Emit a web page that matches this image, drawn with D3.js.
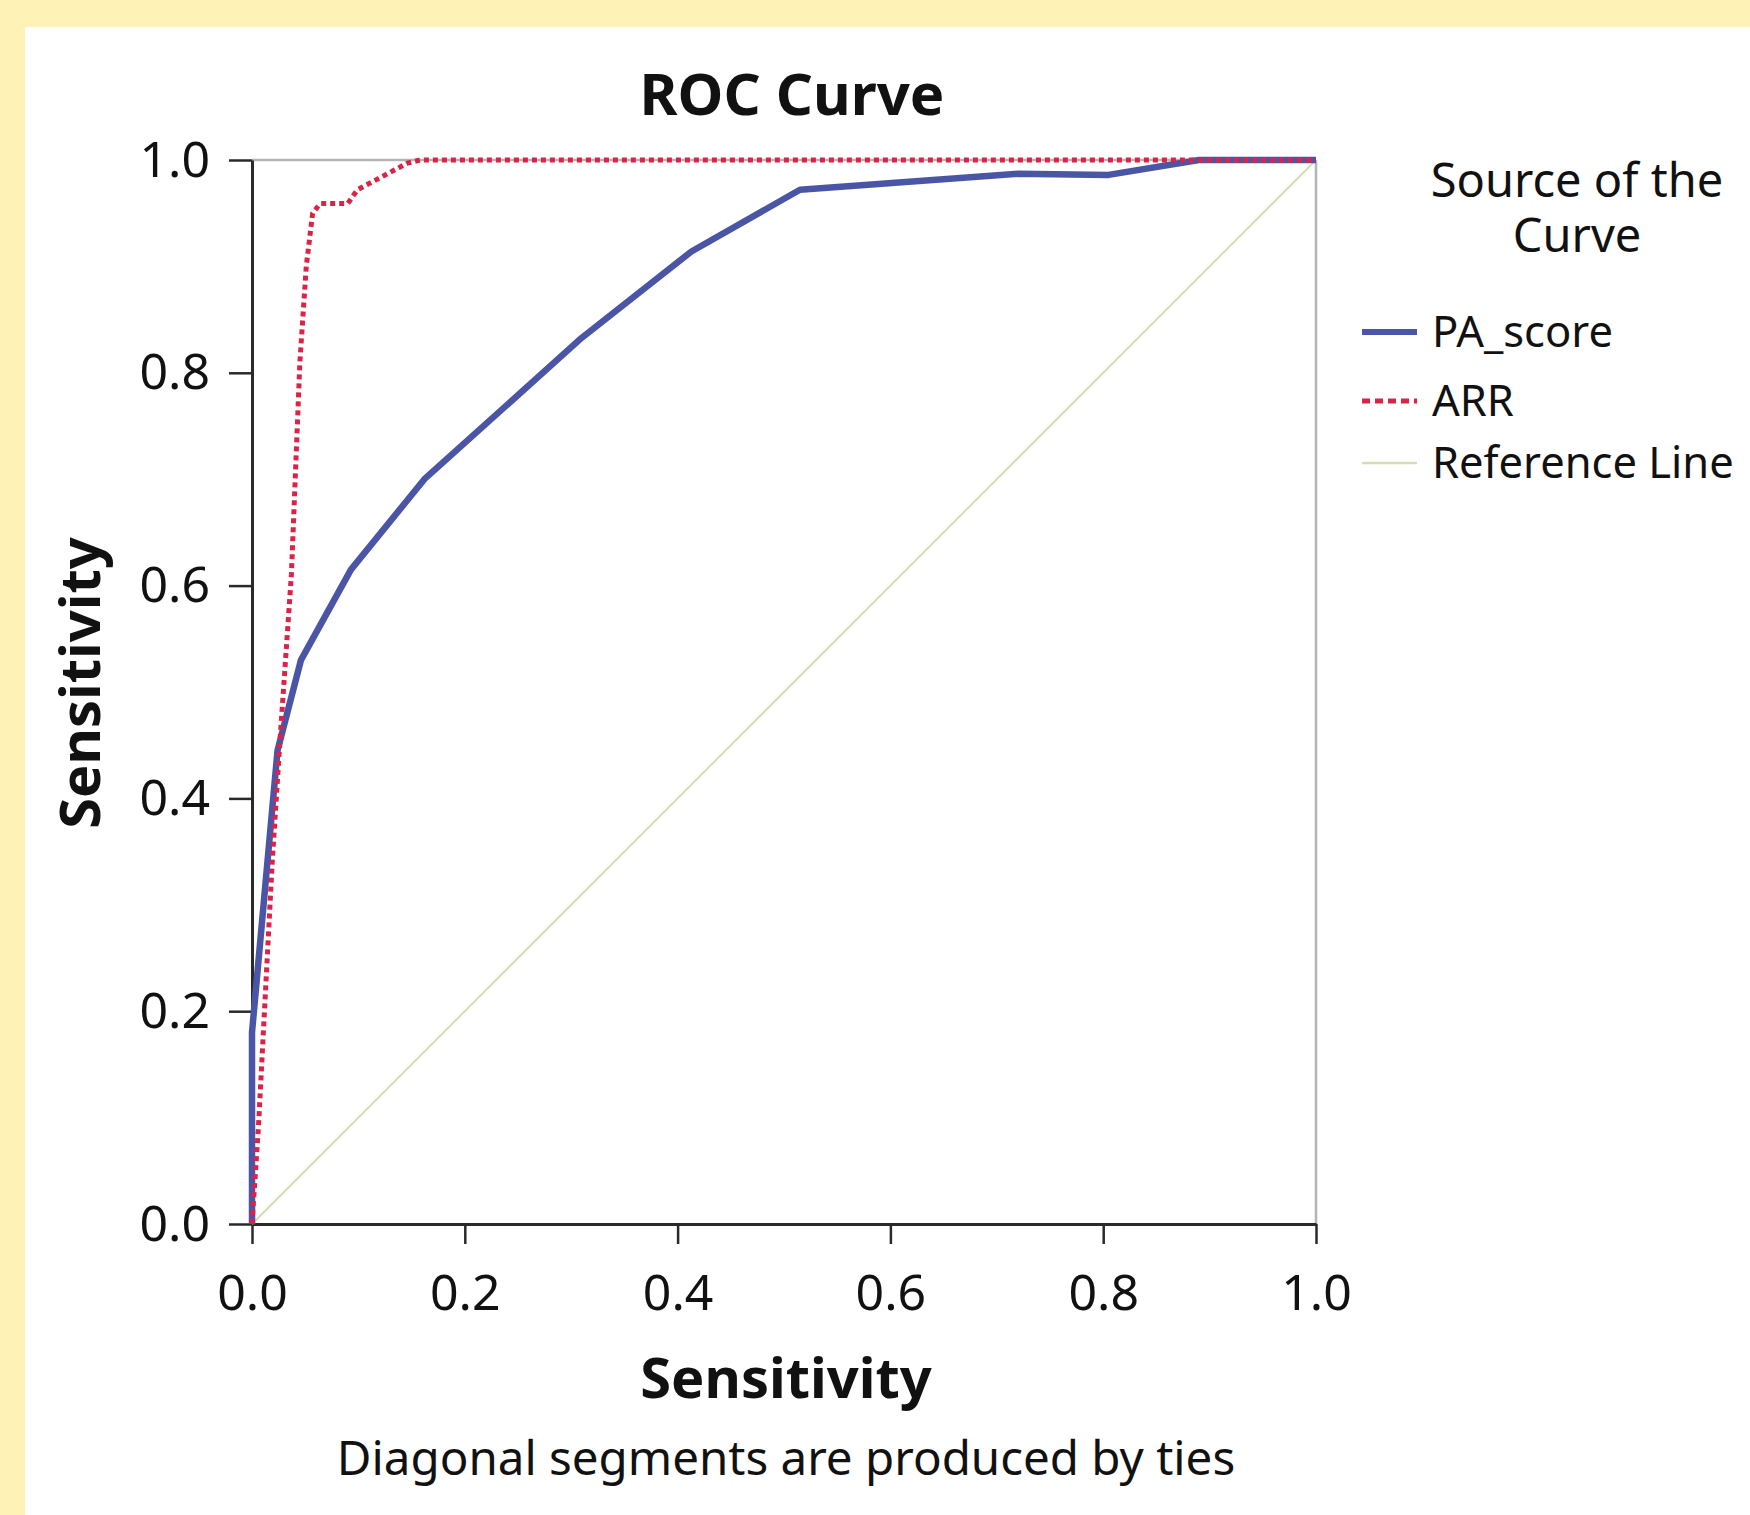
<!DOCTYPE html>
<html>
<head>
<meta charset="utf-8">
<script src="https://cdn.jsdelivr.net/npm/d3@7"></script>
<style>
  body { margin: 0; }
  svg { display: block; font-family: "Noto Sans", "Open Sans", sans-serif; }
</style>
</head>
<body>
<svg width="1750" height="1515"></svg>
<script>
// ROC points, x = 1 - specificity (axis is labelled Sensitivity in the source)
var paX = [0, 0, 0.024, 0.046, 0.093, 0.162, 0.31, 0.413, 0.515, 0.72, 0.805, 0.89, 1],
    paY = [0, 0.18, 0.445, 0.53, 0.615, 0.70, 0.833, 0.914, 0.972, 0.987, 0.986, 1.0, 1];

var arrX = [0, 0.006, 0.019, 0.026, 0.037, 0.045, 0.051, 0.057, 0.064, 0.09, 0.099, 0.146, 0.158, 1],
    arrY = [0, 0.09, 0.34, 0.45, 0.61, 0.81, 0.90, 0.95, 0.959, 0.959, 0.972, 0.997, 1.0, 1];

var refX = [0, 1],
    refY = [0, 1];

var xTicks = [0, 0.2, 0.4, 0.6, 0.8, 1.0],
    yTicks = [0, 0.2, 0.4, 0.6, 0.8, 1.0];

var legendNames = ["PA_score", "ARR", "Reference Line"];

var svg = d3.select("svg"),
    width = +svg.attr("width"),
    height = +svg.attr("height");

svg.append("rect").attr("width", width).attr("height", height).attr("fill", "#fef2b6");
svg.append("rect").attr("x", 25).attr("y", 27).attr("width", width - 25).attr("height", height - 27).attr("fill", "#fff");

var x = d3.scaleLinear().domain([0, 1]).range([252, 1316]),
    y = d3.scaleLinear().domain([0, 1]).range([1224, 160]);

// top / right frame (light grey)
svg.append("line").attr("x1", x(0)).attr("x2", x(1)).attr("y1", y(1)).attr("y2", y(1))
  .attr("stroke", "#b4b4b4").attr("stroke-width", 2.5);
svg.append("line").attr("x1", x(1)).attr("x2", x(1)).attr("y1", y(1)).attr("y2", y(0))
  .attr("stroke", "#b4b4b4").attr("stroke-width", 2.5);

var fmt = d3.format(".1f");

var xAxis = svg.append("g")
  .attr("transform", "translate(0," + y(0) + ")")
  .call(d3.axisBottom(x).tickValues(xTicks).tickFormat(fmt).tickSize(20).tickSizeOuter(0).tickPadding(30));

var yAxis = svg.append("g")
  .attr("transform", "translate(" + x(0) + ",0)")
  .call(d3.axisLeft(y).tickValues(yTicks).tickFormat(fmt).tickSize(23).tickSizeOuter(0).tickPadding(19));

[xAxis, yAxis].forEach(function(a) {
  a.select(".domain").attr("stroke", "#2a2a2a").attr("stroke-width", 3);
  a.selectAll(".tick line").attr("stroke", "#2a2a2a").attr("stroke-width", 2.5);
  a.selectAll(".tick text")
    .attr("fill", "#111")
    .style("font-size", "50px")
    .style("font-family", "'Noto Sans', sans-serif");
});

var line = d3.line()
  .x(function(d) { return x(d[0]); })
  .y(function(d) { return y(d[1]); });

var refPts = d3.zip(refX, refY),
    paPts = d3.zip(paX, paY),
    arrPts = d3.zip(arrX, arrY);

svg.append("path").datum(refPts).attr("d", line)
  .attr("fill", "none").attr("stroke", "#d6ddb0").attr("stroke-width", 2);

svg.append("path").datum(paPts).attr("d", line)
  .attr("fill", "none").attr("stroke", "#4b55a6").attr("stroke-width", 6.5)
  .attr("stroke-linejoin", "round");

svg.append("path").datum(arrPts).attr("d", line)
  .attr("fill", "none").attr("stroke", "#dc2347").attr("stroke-width", 5)
  .attr("stroke-dasharray", "5,4");

// titles
svg.append("text").attr("x", 792).attr("y", 115)
  .attr("text-anchor", "middle").style("font-size", "58px").style("font-weight", "bold")
  .attr("fill", "#111").text("ROC Curve");

svg.append("text").attr("x", 786).attr("y", 1398)
  .attr("text-anchor", "middle").style("font-size", "56px").style("font-weight", "bold")
  .attr("fill", "#111").text("Sensitivity");

svg.append("text").attr("transform", "translate(100,683) rotate(-90)")
  .attr("text-anchor", "middle").style("font-size", "56px").style("font-weight", "bold")
  .attr("fill", "#111").text("Sensitivity");

svg.append("text").attr("x", 786).attr("y", 1475)
  .attr("text-anchor", "middle").style("font-size", "47.5px")
  .attr("fill", "#111").text("Diagonal segments are produced by ties");

// legend
var lg = svg.append("g");
var lgTitle = lg.append("text").attr("x", 1577).attr("y", 197).attr("text-anchor", "middle")
  .style("font-size", "47px").attr("fill", "#111");
lgTitle.append("tspan").attr("x", 1577).attr("y", 197).text("Source of the");
lgTitle.append("tspan").attr("x", 1577).attr("y", 252).text("Curve");

var legendY = [332, 401, 463],
    legendStyle = [
      {stroke: "#4b55a6", w: 6, dash: null},
      {stroke: "#dc2347", w: 5, dash: "8,5"},
      {stroke: "#d6ddb0", w: 2.5, dash: null}
    ];

var item = lg.selectAll(".item").data(legendNames).enter().append("g")
  .attr("class", "item")
  .attr("transform", function(d, i) { return "translate(0," + legendY[i] + ")"; });

item.append("line").attr("x1", 1362).attr("x2", 1417)
  .attr("stroke", function(d, i) { return legendStyle[i].stroke; })
  .attr("stroke-width", function(d, i) { return legendStyle[i].w; })
  .attr("stroke-dasharray", function(d, i) { return legendStyle[i].dash; });

item.append("text").attr("x", 1432).attr("y", 15)
  .style("font-size", "43.5px").attr("fill", "#111")
  .text(function(d) { return d; });
</script>
</body>
</html>
